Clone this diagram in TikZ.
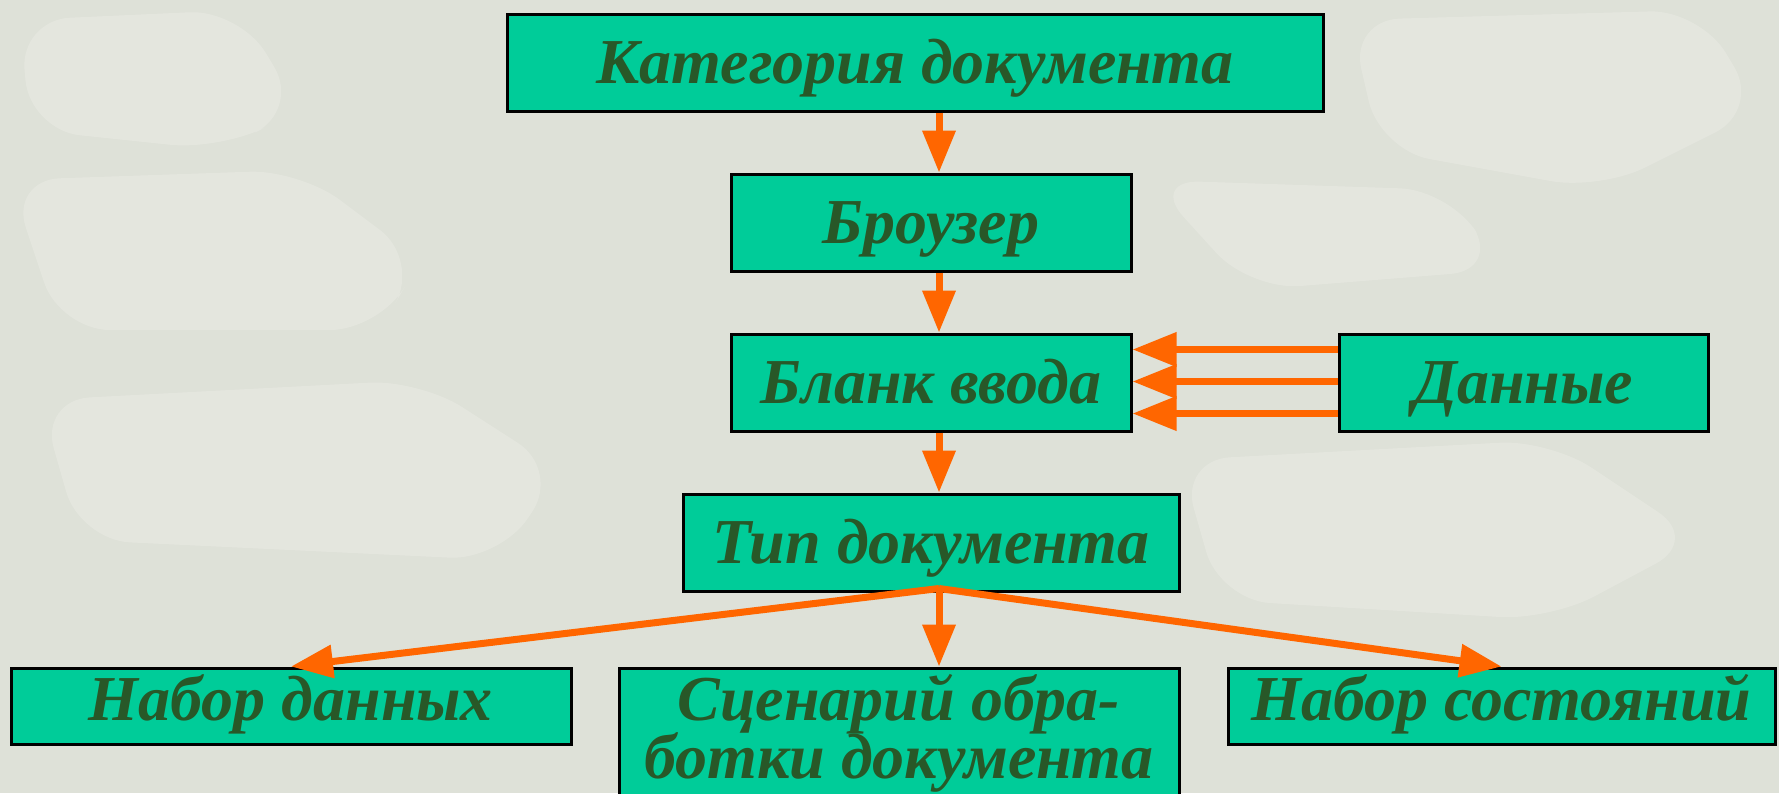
\documentclass[tikz,border=0pt]{standalone}
\usepackage{fontspec}
\setmainfont{Liberation Serif}
\usetikzlibrary{arrows.meta,calc}
\definecolor{bg}{RGB}{222,225,216}
\definecolor{stone}{RGB}{236,237,231}
\definecolor{boxfill}{RGB}{0,204,153}
\definecolor{txt}{RGB}{40,88,40}
\definecolor{arr}{RGB}{255,102,0}
\begin{document}
\begin{tikzpicture}[x=1pt,y=-1pt,
  box/.style={draw=black,line width=3pt,fill=boxfill,inner sep=0pt,text=txt,
    font=\fontsize{64}{57}\selectfont\bfseries\itshape,text height=42pt,text depth=0pt},
  lowbox/.style={box,text height=40pt,text depth=12pt},
  label/.style={inner sep=0pt,text=txt,font=\fontsize{64}{57}\selectfont\bfseries\itshape,anchor=base},
  flow/.style={draw=arr,line width=7pt,-{Triangle[length=42pt,width=32pt]}},
  flowh/.style={draw=arr,line width=7pt,-{Triangle[length=44pt,width=33pt]}},
  stoneshape/.style={fill=stone,opacity=0.45,rounded corners=50pt}
]
\fill[bg] (0,0) rectangle (1779,793);
\useasboundingbox (0,0) rectangle (1779,793);
% faint stone-wall texture
\begin{scope}
\clip (0,0) rectangle (1779,793);
\fill[stoneshape] (20,20) -- (240,10) -- (300,110) -- (220,150) -- (30,130) -- cycle;
\fill[stoneshape] (10,180) -- (300,170) -- (420,260) -- (380,330) -- (60,330) -- cycle;
\fill[stoneshape] (40,400) -- (420,380) -- (560,470) -- (500,560) -- (80,540) -- cycle;
\fill[stoneshape] (1350,20) -- (1700,10) -- (1760,110) -- (1600,190) -- (1380,150) -- cycle;
\fill[stoneshape] (1180,460) -- (1550,440) -- (1700,540) -- (1550,620) -- (1220,600) -- cycle;
\fill[stoneshape] (1150,180) -- (1450,190) -- (1500,270) -- (1250,290) -- cycle;
\end{scope}
\coordinate (ax) at (939,0);
\node[box,minimum width=816pt,minimum height=97pt] (kat) at (915,62.5) {Категория документа};
\node[box,minimum width=400pt,minimum height=97pt] (br) at (931,222.5) {Броузер};
\node[box,minimum width=400pt,minimum height=97pt] (bl) at (931,382.5) {Бланк ввода};
\node[box,minimum width=369pt,minimum height=97pt] (dan) at (1523.5,382.5) {Данные};
\node[box,minimum width=496pt,minimum height=97pt] (tip) at (931,542.5) {Тип документа};
\node[lowbox,minimum width=560pt,minimum height=76pt] (nd) at (291,706) {Набор данных};
\node[lowbox,minimum width=547pt,minimum height=76pt] (ns) at (1501.5,706) {Набор состояний};
\node[box,minimum width=560pt,minimum height=146pt] (sc) at (899,741) {};
\node[label] (sc1) at (899,720) {Сценарий обра-};
\node[label] (sc2) at (899,778) {ботки документа};
\draw[flow] (kat.south -| ax) -- (br.north -| ax);
\draw[flow] (br.south -| ax) -- (bl.north -| ax);
\draw[flow] (bl.south -| ax) -- (tip.north -| ax);
\foreach \d in {-33,-1,31}
  \draw[flowh] ($(dan.west)+(0,\d)$) -- ($(bl.east)+(0,\d)$);
\coordinate (apex) at ($(tip.south -| ax)+(0,-4)$);
\draw[flow] (apex) -- (nd.north);
\draw[flow] (apex) -- (sc.north -| ax);
\draw[flow] (apex) -- (ns.north);
\end{tikzpicture}
\end{document}
